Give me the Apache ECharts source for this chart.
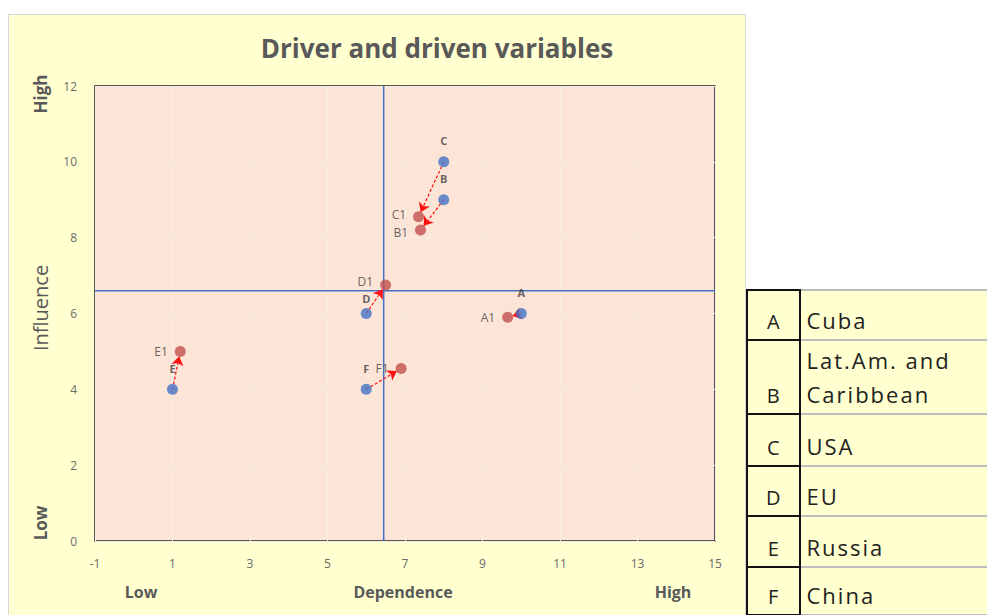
<!DOCTYPE html>
<html><head><meta charset="utf-8">
<script src="https://cdn.jsdelivr.net/npm/echarts@6/dist/echarts.min.js"></script>
<style>
html,body{margin:0;padding:0;background:#fff;width:987px;height:615px;overflow:hidden;font-family:"Open Sans",sans-serif;}
#bg{position:absolute;left:8px;top:14px;width:736px;height:610px;background:#FFFFD0;border:1px solid #d6d6d6;}
#chart{position:absolute;left:0;top:0;width:987px;height:615px;}
#tbl{position:absolute;left:746px;top:289px;border-collapse:collapse;background:#FFFFD0;font-family:"Open Sans",sans-serif;color:#222;}
#tbl td{padding:0;}
#tbl td.k{width:55px;border:2px solid #111;text-align:center;vertical-align:bottom;font-size:20px;line-height:24px;padding-bottom:5px;}
#tbl td.v{width:185px;border-top:2px solid #bdbdbd;border-bottom:2px solid #bdbdbd;font-size:22px;padding-left:6px;vertical-align:bottom;line-height:34px;padding-bottom:2px;letter-spacing:2px;white-space:nowrap;}
</style></head>
<body>
<div id="bg"></div>
<div id="chart"></div>
<table id="tbl"></table>
<script>
// ---- data ----
const codes = ['A','B','C','D','E','F'];
const names = ['Cuba','Lat.Am. and Caribbean','USA','EU','Russia','China'];
const rowHeights = [50,74,52,50,51,48];
const origX = [10, 8, 8, 6, 1, 6];
const origY = [6, 9, 10, 6, 4, 4];
const newX = [9.65, 7.4, 7.35, 6.5, 1.2, 6.9];
const newY = [5.9, 8.2, 8.55, 6.75, 5.0, 4.55];
const newLabels = ['A1','B1','C1','D1','E1','F1'];
const quadX = 6.45;
const quadY = 6.6;
const xTicks = [-1,1,3,5,7,9,11,13,15];
const yTicks = [0,2,4,6,8,10,12];

// ---- table ----
const tbl = document.getElementById('tbl');
codes.forEach((c,i)=>{
  const tr = document.createElement('tr');
  tr.style.height = rowHeights[i]+'px';
  const k = document.createElement('td'); k.className='k'; k.textContent=c;
  const v = document.createElement('td'); v.className='v';
  if (names[i].indexOf(' and ')>0){ v.innerHTML = 'Lat.Am. and<br>Caribbean'; }
  else v.textContent = names[i];
  tr.appendChild(k); tr.appendChild(v); tbl.appendChild(tr);
});

// ---- chart ----
const chart = echarts.init(document.getElementById('chart'), null, {renderer:'svg'});
const grey = '#595959';
const blue = '#4472C4';
const red = '#C0504D';
const arrowRed = '#FF1010';
const F = '"Open Sans"';
// small label nudges (pixels) to keep crowded labels legible
const newLabelNudge = {B1:[0,2], C1:[0,-2], D1:[0,-4]};
const origLabelNudge = {D:[0,6]};

function arrows(shorten){
  return origX.map((x,i)=>{
    let end = [newX[i], newY[i]];
    if (shorten){
      const p0 = chart.convertToPixel({gridIndex:0}, [x, origY[i]]);
      const p1 = chart.convertToPixel({gridIndex:0}, end);
      const dx = p1[0]-p0[0], dy = p1[1]-p0[1];
      const L = Math.sqrt(dx*dx+dy*dy);
      const s = Math.max(0, (L-5)/L);
      end = chart.convertFromPixel({gridIndex:0}, [p0[0]+dx*s, p0[1]+dy*s]);
    }
    return {coords: [[x, origY[i]], end]};
  });
}

const option = {
  animation:false,
  backgroundColor:'transparent',
  title:{text:'Driver and driven variables', left:432, top:30, textAlign:'center',
    textStyle:{fontFamily:F, fontSize:26, fontWeight:'bold', color:grey}},
  grid:{left:95, right:272, top:86, bottom:74, show:true, backgroundColor:'#FCE4D6', borderColor:'#222', borderWidth:1.5},
  xAxis:{type:'value', min:xTicks[0], max:xTicks[xTicks.length-1], interval:2,
    axisLine:{show:false}, axisTick:{show:false},
    axisLabel:{color:'#6b6b6b', fontSize:12, margin:16, fontFamily:F},
    splitLine:{show:true, lineStyle:{color:'#F6EDE4', width:1}}},
  yAxis:{type:'value', min:yTicks[0], max:yTicks[yTicks.length-1], interval:2,
    axisLine:{show:false}, axisTick:{show:false},
    axisLabel:{color:'#6b6b6b', fontSize:12, margin:18, fontFamily:F},
    splitLine:{show:true, lineStyle:{color:'#F6EDE4', width:1}}},
  graphic:[
    {type:'text', style:{text:'Low', font:'bold 16px "Open Sans"', fill:grey, align:'center', verticalAlign:'middle'}, x:141, y:592},
    {type:'text', style:{text:'Dependence', font:'bold 16px "Open Sans"', fill:grey, align:'center', verticalAlign:'middle'}, x:403, y:592},
    {type:'text', style:{text:'High', font:'bold 16px "Open Sans"', fill:grey, align:'center', verticalAlign:'middle'}, x:673, y:592},
    {type:'text', rotation:Math.PI/2, style:{text:'High', font:'bold 17px "Open Sans"', fill:grey, align:'center', verticalAlign:'middle'}, x:40, y:94},
    {type:'text', rotation:Math.PI/2, style:{text:'Influence', font:'20px "Open Sans"', fill:grey, align:'center', verticalAlign:'middle'}, x:40, y:308},
    {type:'text', rotation:Math.PI/2, style:{text:'Low', font:'bold 17px "Open Sans"', fill:grey, align:'center', verticalAlign:'middle'}, x:40, y:523}
  ],
  series:[
    {type:'line', data:[[quadX, yTicks[0]],[quadX, yTicks[yTicks.length-1]]], symbol:'none', silent:true,
      lineStyle:{color:blue, width:1.5}, z:1},
    {type:'line', data:[[xTicks[0], quadY],[xTicks[xTicks.length-1], quadY]], symbol:'none', silent:true,
      lineStyle:{color:blue, width:1.5}, z:1},
    {type:'lines', coordinateSystem:'cartesian2d', data:arrows(false), symbol:['none','arrow'], symbolSize:9,
      lineStyle:{color:arrowRed, width:1.2, type:[3,2], opacity:1}, z:3},
    {type:'scatter', data:origX.map((x,i)=>({value:[x, origY[i]], name:codes[i],
        label:{offset:origLabelNudge[codes[i]]||[0,0]}})), symbolSize:11,
      itemStyle:{color:blue}, z:4,
      label:{show:true, position:'top', distance:10, formatter:'{b}', color:'#404040', fontSize:11, fontWeight:'bold', fontFamily:F}},
    {type:'scatter', data:newX.map((x,i)=>({value:[x, newY[i]], name:newLabels[i],
        label:{offset:newLabelNudge[newLabels[i]]||[0,0]}})), symbolSize:11,
      itemStyle:{color:red}, z:4,
      label:{show:true, position:'left', distance:7, formatter:'{b}', color:'#404040', fontSize:12, fontFamily:F}}
  ]
};
chart.setOption(option);
chart.setOption({series:[{},{},{data:arrows(true)},{},{}]});
</script>
</body></html>
